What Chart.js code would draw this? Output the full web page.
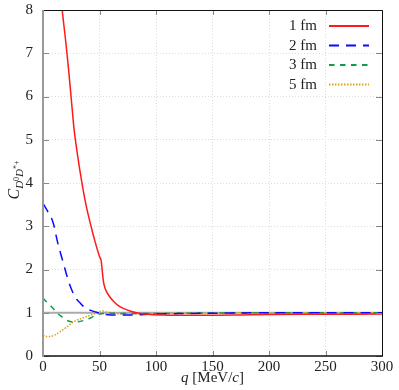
<!DOCTYPE html>
<html>
<head>
<meta charset="utf-8">
<script src="https://cdn.jsdelivr.net/npm/chart.js@4"></script>
<style>
  html, body { margin: 0; padding: 0; background: #fff; }
  #wrap { width: 399px; height: 390px; }
</style>
</head>
<body>
<div id="wrap"><canvas id="chart" width="399" height="390"></canvas></div>
<script>
// data
const labels = ['1 fm', '2 fm', '3 fm', '5 fm'];

const q1 = [10, 14, 17, 20, 22.4, 25, 27.4, 30, 34, 38, 42.5, 46, 50, 51.5, 52.5, 53.5, 54.5, 56, 59, 63, 67, 71, 77, 85, 95, 110, 130, 150, 175, 200, 250, 300];
const c1 = [10.2, 8.9, 8.0, 7.3, 6.69, 5.95, 5.27, 4.75, 4.07, 3.5, 3.0, 2.65, 2.3, 2.2, 1.95, 1.72, 1.6, 1.5, 1.37, 1.25, 1.16, 1.1, 1.04, 0.99, 0.96, 0.945, 0.94, 0.94, 0.95, 0.96, 0.965, 0.97];

const q2 = [0, 4, 9, 13, 18, 22, 25.4, 29, 32.7, 37, 41.6, 47.5, 53, 60, 70, 80, 90, 100, 120, 150, 200, 250, 300];
const c2 = [3.53, 3.35, 3.08, 2.62, 2.15, 1.78, 1.53, 1.34, 1.23, 1.12, 1.06, 1.01, 0.97, 0.95, 0.95, 0.95, 0.96, 0.97, 0.98, 0.99, 1.0, 1.0, 1.0];

const q3 = [0, 4, 9, 13, 16.5, 20, 24, 30, 36, 42, 47.5, 53, 59, 70, 85, 100, 130, 200, 300];
const c3 = [1.34, 1.23, 1.1, 0.98, 0.91, 0.84, 0.8, 0.79, 0.82, 0.88, 0.95, 0.98, 0.99, 0.98, 0.98, 0.98, 0.99, 1.0, 1.0];

const q5 = [0, 3, 6, 10, 15, 21, 27, 33, 38.6, 44, 50.4, 53, 56, 62, 70, 80, 100, 130, 200, 300];
const c5 = [0.48, 0.45, 0.45, 0.48, 0.56, 0.67, 0.79, 0.86, 0.91, 0.96, 1.02, 1.04, 1.02, 0.99, 0.97, 0.97, 0.98, 0.99, 1.0, 1.0];

const refQ = [0, 300];
const refC = [1, 1];

const xTicks = [0, 50, 100, 150, 200, 250, 300];
const yTicks = [0, 1, 2, 3, 4, 5, 6, 7, 8];

const pts = (xs, ys) => xs.map((x, i) => ({ x: x, y: ys[i] }));

// axis titles, box, inward ticks and a gnuplot-style key
const frame = {
  id: 'frame',
  afterDatasetsDraw(chart) {
    const ctx = chart.ctx;
    const a = chart.chartArea;
    const xs = chart.scales.x, ys = chart.scales.y;
    ctx.save();
    // inner ticks
    ctx.strokeStyle = '#888';
    ctx.lineWidth = 1;
    ctx.beginPath();
    xTicks.forEach(v => {
      const px = Math.round(xs.getPixelForValue(v)) + 0.5;
      ctx.moveTo(px, a.bottom); ctx.lineTo(px, a.bottom - 5);
      ctx.moveTo(px, a.top); ctx.lineTo(px, a.top + 5);
    });
    yTicks.forEach(v => {
      const py = Math.round(ys.getPixelForValue(v)) + 0.5;
      ctx.moveTo(a.left, py); ctx.lineTo(a.left + 6, py);
      ctx.moveTo(a.right, py); ctx.lineTo(a.right - 6, py);
    });
    ctx.stroke();
    // box
    ctx.strokeStyle = '#111';
    ctx.lineWidth = 1;
    ctx.beginPath();
    ctx.moveTo(a.left, a.top + 0.5); ctx.lineTo(a.right + 0.5, a.top + 0.5);
    ctx.lineTo(a.right + 0.5, a.bottom);
    ctx.stroke();
    ctx.lineWidth = 1.5;
    ctx.beginPath();
    ctx.moveTo(a.left, a.bottom); ctx.lineTo(a.right + 1, a.bottom);
    ctx.stroke();
    ctx.strokeStyle = '#999';
    ctx.lineWidth = 2;
    ctx.beginPath();
    ctx.moveTo(a.left, a.top); ctx.lineTo(a.left, a.bottom + 1);
    ctx.stroke();

    // key: text right aligned, sample line after it
    ctx.font = '15px "Liberation Serif"';
    ctx.textAlign = 'right';
    ctx.textBaseline = 'middle';
    chart.data.datasets.slice(0, 4).forEach((ds, i) => {
      const y = a.top + 16 + i * 19.5;
      ctx.fillStyle = '#222';
      ctx.fillText(ds.label, a.right - 65, y + 0.5);
      ctx.strokeStyle = ds.borderColor;
      ctx.lineWidth = 1.8;
      ctx.setLineDash(ds.borderDash || []);
      ctx.beginPath();
      ctx.moveTo(a.right - 53, y); ctx.lineTo(a.right - 13, y);
      ctx.stroke();
    });
    ctx.setLineDash([]);
    ctx.textAlign = 'left';

    // x title: q [MeV/c]
    const parts = [
      ['q', 'italic 15px "Liberation Serif"'],
      [' [MeV/', '15px "Liberation Serif"'],
      ['c', 'italic 15px "Liberation Serif"'],
      [']', '15px "Liberation Serif"']
    ];
    ctx.fillStyle = '#222';
    ctx.textBaseline = 'alphabetic';
    let total = 0;
    parts.forEach(p => { ctx.font = p[1]; total += ctx.measureText(p[0]).width; });
    let x = (a.left + a.right) / 2 - total / 2;
    parts.forEach(p => { ctx.font = p[1]; ctx.fillText(p[0], x, 382); x += ctx.measureText(p[0]).width; });

    // y title: C_{D^0 D^{*+}}
    ctx.translate(14, 180);
    ctx.rotate(-Math.PI / 2);
    const yParts = [
      ['C', 'italic 16px "Liberation Serif"', 0],
      ['D', 'italic 11px "Liberation Serif"', 4],
      ['0', '8px "Liberation Serif"', 0],
      ['D', 'italic 11px "Liberation Serif"', 4],
      ['*+', '8px "Liberation Serif"', 0]
    ];
    total = 0;
    yParts.forEach(p => { ctx.font = p[1]; total += ctx.measureText(p[0]).width; });
    x = -total / 2;
    yParts.forEach(p => { ctx.font = p[1]; ctx.fillText(p[0], x, 5 + p[2]); x += ctx.measureText(p[0]).width; });
    ctx.restore();
  }
};

const serif = { family: '"Liberation Serif", serif', size: 15 };

new Chart(document.getElementById('chart'), {
  type: 'line',
  data: {
    datasets: [
      { label: labels[0], data: pts(q1, c1), borderColor: '#ff1a1a', borderWidth: 1.5 },
      { label: labels[1], data: pts(q2, c2), borderColor: '#0a0aff', borderWidth: 1.5, borderDash: [10, 7] },
      { label: labels[2], data: pts(q3, c3), borderColor: '#129a4e', borderWidth: 1.5, borderDash: [5.5, 5.5] },
      { label: labels[3], data: pts(q5, c5), borderColor: '#d9a21b', borderWidth: 1.5, borderDash: [1.5, 1.5] },
      { label: 'ref', data: pts(refQ, refC), borderColor: '#aaa', borderWidth: 2, order: 10 }
    ]
  },
  options: {
    responsive: false,
    animation: false,
    layout: { padding: { top: 10, right: 17, left: 0, bottom: 0 } },
    elements: {
      point: { radius: 0 },
      line: { cubicInterpolationMode: 'monotone', fill: false }
    },
    scales: {
      x: {
        type: 'linear', min: 0, max: 300,
        afterBuildTicks: s => { s.ticks = xTicks.map(v => ({ value: v })); },
        afterFit: s => { s.height = 34; s.paddingLeft = 0; s.paddingRight = 0; },
        grid: { color: '#dcdcdc', lineWidth: 1, drawTicks: false },
        border: { display: false, dash: [1, 2] },
        ticks: { color: '#222', font: serif, padding: 2, maxRotation: 0 }
      },
      y: {
        type: 'linear', min: 0, max: 8,
        afterBuildTicks: s => { s.ticks = yTicks.map(v => ({ value: v })); },
        afterFit: s => { s.width = 43; s.paddingTop = 0; s.paddingBottom = 0; },
        grid: { color: '#dcdcdc', lineWidth: 1, drawTicks: false },
        border: { display: false, dash: [1, 2] },
        ticks: { color: '#222', font: serif, padding: 10 }
      }
    },
    plugins: {
      legend: { display: false },
      tooltip: { enabled: false }
    }
  },
  plugins: [frame]
});
</script>
</body>
</html>
